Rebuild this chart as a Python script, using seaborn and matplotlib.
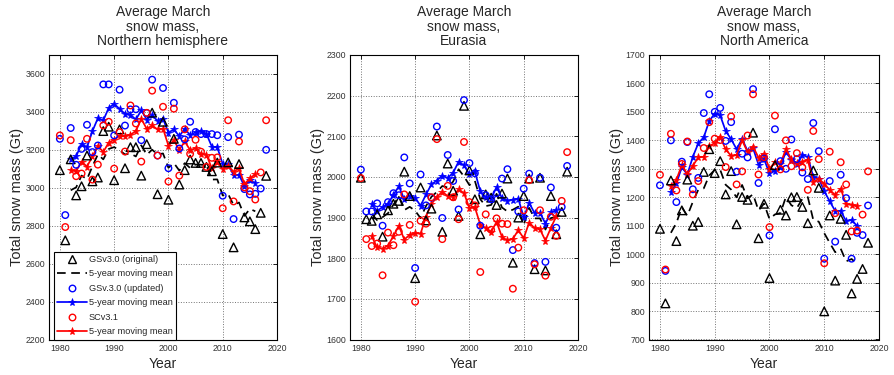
import numpy as np
import pandas as pd
import matplotlib
matplotlib.use("Agg")
import matplotlib.pyplot as plt
import seaborn as sns
from matplotlib.lines import Line2D

years = list(range(1980, 2019))

# Northern hemisphere
nh_orig = [3093, 2723, 3150, 2960, 3008, 3170, 3034, 3054, 3299, 3322,
           3040, 3308, 3103, 3214, 3214, 3064, 3230, 3396, 2966, 3348,
           2937, 3258, 3017, 3093, 3149, 3131, 3131, 3110, 3087, 3133,
           2756, 3134, 2686, 3125, 2844, 2823, 2782, 2868, 3063]
nh_upd = [3258, 2856, 3315, 3121, 3205, 3332, 3188, 3223, 3545, 3545,
          3276, 3517, 3328, 3413, 3414, 3251, 3394, 3570, 3170, 3526,
          3103, 3448, 3207, 3255, 3348, 3294, 3283, 3283, 3283, 3277,
          2958, 3267, 2835, 3280, 2993, 2965, 2968, 2996, 3200]
nh_sc = [3276, 2793, 3251, 3061, 3075, 3258, 3043, 3122, 3329, 3348,
         3101, 3293, 3191, 3434, 3339, 3138, 3395, 3512, 3170, 3427,
         3033, 3417, 3064, 3308, 3179, 3253, 3190, 3110, 3158, 3160,
         2892, 3356, 2928, 3244, 3002, 2982, 2938, 3081, 3356]

# Eurasia
ea_orig = [1998, 1896, 1892, 1908, 1853, 1918, 1934, 1941, 2013, 1953,
           1751, 1974, 1893, 1922, 2102, 1865, 2033, 1966, 1904, 2175,
           2016, 1945, 1859, 1957, 1949, 1931, 1959, 1996, 1789, 1900,
           1953, 1996, 1773, 1998, 1770, 1953, 1859, 1914, 2013]
ea_upd = [2018, 1915, 1915, 1935, 1880, 1938, 1960, 1955, 2048, 1984,
          1776, 2006, 1930, 1949, 2124, 1899, 2054, 1990, 1920, 2189,
          2034, 2009, 1880, 1955, 1945, 1960, 1996, 2019, 1820, 1915,
          1971, 2008, 1788, 1998, 1791, 1974, 1875, 1926, 2027]
ea_sc = [1997, 1847, 1830, 1836, 1758, 1863, 1832, 1865, 1957, 1882,
         1693, 1892, 1885, 1950, 2093, 1847, 1978, 1950, 1896, 2086,
         1938, 1930, 1766, 1908, 1870, 1898, 1885, 1884, 1725, 1826,
         1918, 1992, 1785, 1918, 1757, 1902, 1855, 1941, 2061]

# North America
na_orig = [1089, 827, 1259, 1046, 1154, 1262, 1100, 1113, 1289, 1369,
           1285, 1327, 1210, 1292, 1105, 1201, 1191, 1427, 1056, 1177,
           916, 1313, 1156, 1136, 1200, 1201, 1166, 1109, 1294, 1233,
           799, 1136, 907, 1124, 1068, 862, 913, 948, 1040]
na_upd = [1242, 941, 1400, 1183, 1325, 1394, 1228, 1268, 1496, 1562,
          1500, 1514, 1398, 1464, 1290, 1353, 1340, 1580, 1250, 1337,
          1066, 1439, 1327, 1300, 1403, 1334, 1287, 1264, 1461, 1362,
          984, 1257, 1044, 1279, 1197, 984, 1075, 1067, 1171]
na_sc = [1279, 946, 1423, 1224, 1317, 1396, 1210, 1257, 1373, 1464,
         1406, 1401, 1306, 1484, 1245, 1291, 1417, 1562, 1280, 1341,
         1095, 1487, 1298, 1400, 1309, 1355, 1305, 1226, 1433, 1334,
         968, 1360, 1144, 1323, 1245, 1080, 1083, 1139, 1291]

titles = ["Average March\nsnow mass,\nNorthern hemisphere",
          "Average March\nsnow mass,\nEurasia",
          "Average March\nsnow mass,\nNorth America"]
legend_labels = ["GSv3.0 (original)", "5-year moving mean", "GSv.3.0 (updated)",
                 "5-year moving mean", "SCv3.1", "5-year moving mean"]
ylims = [(2200, 3700), (1600, 2300), (700, 1700)]
ytick_sets = [list(range(2200, 3601, 200)), list(range(1600, 2301, 100)),
              list(range(700, 1701, 100))]
xticks = [1980, 1990, 2000, 2010, 2020]

sns.set_style("white")
plt.rcParams['font.family'] = ['Liberation Sans', 'DejaVu Sans']

W, H = 895, 375
fig = plt.figure(figsize=(W / 100, H / 100), dpi=100)
lefts_rights = [(49, 277), (350, 578), (649, 879)]
top_px, bot_px = 55, 339.5

DASH = (0, (5, 3.2))
LW = 1.25
STAR = 5.8
panels = [(nh_orig, nh_upd, nh_sc), (ea_orig, ea_upd, ea_sc), (na_orig, na_upd, na_sc)]

for i, (orig, upd, sc) in enumerate(panels):
    l, r = lefts_rights[i]
    ax = fig.add_axes([l / W, (H - bot_px) / H, (r - l) / W, (bot_px - top_px) / H])
    df = pd.DataFrame({"year": years, "orig": orig, "upd": upd, "sc": sc})
    for c in ["orig", "upd", "sc"]:
        df[c + "_mm"] = df[c].rolling(5, center=True).mean()

    sns.scatterplot(data=df, x="year", y="orig", marker="^", s=38, facecolor="none",
                    edgecolor="black", linewidth=1.0, ax=ax, zorder=4)
    sns.lineplot(data=df, x="year", y="orig_mm", color="black", linestyle=DASH,
                 linewidth=LW, ax=ax, zorder=3)
    sns.scatterplot(data=df, x="year", y="upd", marker="o", s=22, facecolor="none",
                    edgecolor="blue", linewidth=1.0, ax=ax, zorder=4)
    sns.lineplot(data=df, x="year", y="upd_mm", color="blue", linestyle="-",
                 marker="*", markersize=STAR, markeredgewidth=0.5,
                 markeredgecolor="blue", linewidth=LW, ax=ax, zorder=3)
    sns.scatterplot(data=df, x="year", y="sc", marker="o", s=22, facecolor="none",
                    edgecolor="red", linewidth=1.0, ax=ax, zorder=4)
    sns.lineplot(data=df, x="year", y="sc_mm", color="red", linestyle="-",
                 marker="*", markersize=STAR, markeredgewidth=0.5,
                 markeredgecolor="red", linewidth=LW, ax=ax, zorder=3)

    ax.set_xlim(1978, 2020)
    ax.set_ylim(*ylims[i])
    ax.set_xticks(xticks)
    ax.set_yticks(ytick_sets[i])
    ax.grid(True, linestyle=":", color="0.45", linewidth=0.7)
    ax.set_axisbelow(True)
    for s in ax.spines.values():
        s.set_visible(True)
        s.set_color("black")
        s.set_linewidth(0.8)
    ax.tick_params(direction="in", top=True, right=True, length=3, width=0.6,
                   labelsize=6.3, colors="black", labelcolor="0.2", pad=3)
    ax.set_xlabel("Year", fontsize=10, labelpad=3)
    ax.set_ylabel("Total snow mass (Gt)", fontsize=10.5, labelpad=1)
    ax.set_title(titles[i], fontsize=10, linespacing=1.05, pad=7)
    if ax.get_legend() is not None:
        ax.get_legend().remove()

    if i == 0:
        handles = [
            Line2D([], [], ls="none", marker="^", mfc="none", mec="black", ms=6.2, mew=1.0),
            Line2D([], [], color="black", ls=DASH, lw=LW),
            Line2D([], [], ls="none", marker="o", mfc="none", mec="blue", ms=4.7, mew=1.0),
            Line2D([], [], color="blue", lw=LW, marker="*", ms=STAR, mew=0.5),
            Line2D([], [], ls="none", marker="o", mfc="none", mec="red", ms=4.7, mew=1.0),
            Line2D([], [], color="red", lw=LW, marker="*", ms=STAR, mew=0.5),
        ]
        leg = ax.legend(handles, legend_labels, loc="lower left",
                        bbox_to_anchor=(5 / 228, 0.0), borderaxespad=0.0,
                        fontsize=6.6, frameon=True, fancybox=False,
                        edgecolor="black", framealpha=1, handlelength=3.3,
                        handletextpad=0.15, labelspacing=0.6, borderpad=0.35)
        leg.get_frame().set_linewidth(0.8)

fig.savefig("out.png", dpi=100)
